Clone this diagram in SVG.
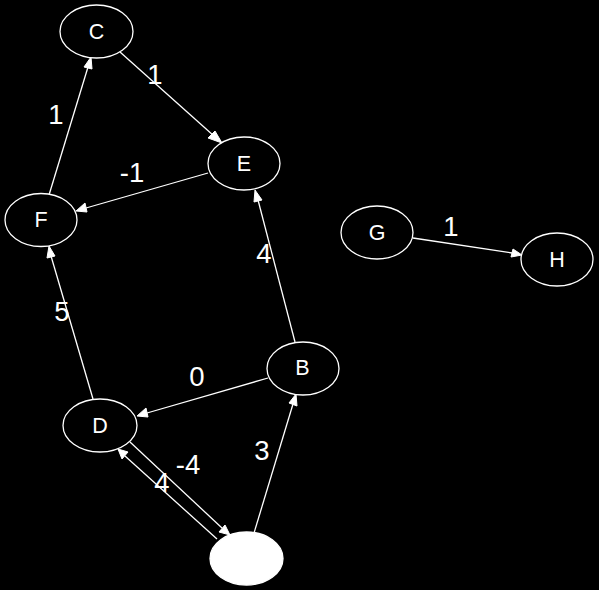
<svg xmlns="http://www.w3.org/2000/svg" width="599" height="590" viewBox="0 0 599 590">
<style>
.n ellipse{fill:#000;stroke:#fff;stroke-width:1.3}
.n text{font-family:"Liberation Sans",Arial,sans-serif;font-size:21.5px;fill:#fff;text-anchor:middle}
.e line{stroke:#fff;stroke-width:1.3}
.e polygon{fill:#fff;stroke:#fff;stroke-width:1}
.l{font-family:"Liberation Sans",Arial,sans-serif;font-size:27.5px;fill:#fff;text-anchor:middle}
</style>
<rect width="599" height="590" fill="#000"/>
<g id="edges" class="e">
<g id="C-E"><line x1="120" y1="52" x2="214" y2="136"/><polygon points="222,143 208,138 215,131"/></g>
<g id="F-C"><line x1="49" y1="195" x2="88" y2="67"/><polygon points="91,57 92,69 84,67"/></g>
<g id="E-F"><line x1="208" y1="173" x2="86" y2="208"/><polygon points="76,211 85,203 87,212"/></g>
<g id="B-E"><line x1="295" y1="342" x2="258" y2="200"/><polygon points="255,190 262,200 254,202"/></g>
<g id="D-F"><line x1="93" y1="399" x2="51" y2="256"/><polygon points="49,246 55,256 47,258"/></g>
<g id="B-D"><line x1="268" y1="378" x2="147" y2="413"/><polygon points="137,416 146,408 148,417"/></g>
<g id="D-X"><line x1="130" y1="442" x2="222" y2="528"/><polygon points="230,535 219,532 225,525"/></g>
<g id="X-D"><line x1="217" y1="539" x2="125" y2="456"/><polygon points="118,449 128,452 122,459"/></g>
<g id="X-B"><line x1="254" y1="533" x2="293" y2="404"/><polygon points="296,394 297,406 289,403"/></g>
<g id="G-H"><line x1="413" y1="238" x2="512" y2="253"/><polygon points="522,255 511,257 513,249"/></g>
<text class="l" x="155" y="84">1</text>
<text class="l" x="56" y="123.5">1</text>
<text class="l" x="132" y="182">-1</text>
<text class="l" x="264" y="263">4</text>
<text class="l" x="62" y="321">5</text>
<text class="l" x="197" y="386">0</text>
<text class="l" x="188" y="474">-4</text>
<text class="l" x="162" y="492">4</text>
<text class="l" x="262" y="460">3</text>
<text class="l" x="451" y="236">1</text>
</g>
<g id="C" class="n"><ellipse cx="96.5" cy="31.5" rx="36.5" ry="26.5"/><text x="96.5" y="38.5">C</text></g>
<g id="E" class="n"><ellipse cx="244" cy="163.5" rx="36" ry="26.5"/><text x="244" y="170.5">E</text></g>
<g id="F" class="n"><ellipse cx="41" cy="220" rx="36" ry="26.5"/><text x="41" y="227">F</text></g>
<g id="G" class="n"><ellipse cx="377" cy="232.5" rx="36" ry="26.5"/><text x="377" y="239.5">G</text></g>
<g id="H" class="n"><ellipse cx="557" cy="259.5" rx="36" ry="26.5"/><text x="557" y="266.5">H</text></g>
<g id="B" class="n"><ellipse cx="303" cy="368.5" rx="36" ry="26.5"/><text x="302.5" y="375">B</text></g>
<g id="D" class="n"><ellipse cx="100" cy="425.5" rx="37" ry="26.5"/><text x="100" y="432.5">D</text></g>
<g id="X" class="n"><ellipse cx="246.5" cy="558.5" rx="36.5" ry="26.5" style="fill:#fff"/></g>
</svg>
